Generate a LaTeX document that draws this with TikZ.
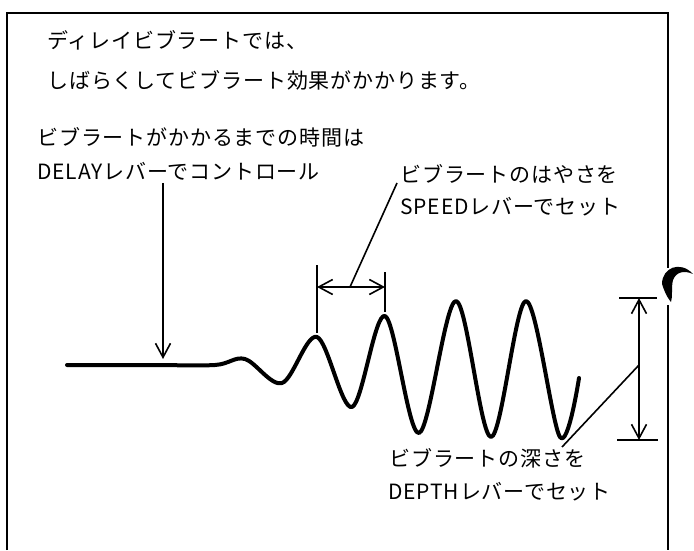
\documentclass[tikz,border=0pt]{standalone}
\usepackage{fontspec}
\newfontfamily\jpfont[LetterSpace=4]{Noto Sans CJK JP}
\usetikzlibrary{arrows.meta}

\tikzset{
    caption/.style={anchor=west, inner sep=0pt, font=\jpfont\fontsize{10.5}{12}\selectfont},
    guide/.style={line width=0.8pt},
    dimline/.style={line width=0.8pt, <->},
}

\begin{document}
\begin{tikzpicture}[x=0.5pt, y=-0.5pt, >={Straight Barb[length=7pt,width=7.5pt]}]
    \useasboundingbox (0,0) rectangle (694,550);

    % frame
    \draw[line width=0.8pt] (7,550) -- (7,13) -- (668,13) -- (668,268);
    \draw[line width=0.8pt] (668,305) -- (668,550);
    \fill (662,284) .. controls (662,268) and (680,260) .. (693,274)
        .. controls (684,270) and (676,272) .. (673,280)
        .. controls (671,288) and (673,296) .. (671,302)
        .. controls (666,296) and (664,290) .. (662,284) -- cycle;

    % texts
    \node[caption] (intro1) at (47,40) {ディレイビブラートでは、};
    \node[caption] (intro2) at (47,80) {しばらくしてビブラート効果がかかります。};
    \node[caption] (delay1) at (37,137) {ビブラートがかかるまでの時間は};
    \node[caption] (delay2) at (37,171) {DELAYレバーでコントロール};
    \node[caption] (speed1) at (400,174) {ビブラートのはやさを};
    \node[caption] (speed2) at (400,207) {SPEEDレバーでセット};
    \node[caption] (depth1) at (389,458) {ビブラートの深さを};
    \node[caption] (depth2) at (388,492) {DEPTHレバーでセット};

    % vibrato wave
    \draw[line width=2pt, line cap=round, line join=round]
        plot[smooth, tension=0.55] coordinates {
            (67,365)
            (150,365)
            (215,365)
            (245,359)
            (282,383)
            (317,337)
            (352,407)
            (385,316)
            (419,433)
            (456,301)
            (491,437)
            (526,301)
            (560,437)
            (579,378)
        };

    % delay
    \coordinate (delaytop) at (163,183);
    \coordinate (delayend) at (163,359);
    \draw[guide, ->] (delaytop) -- (delayend);

    % speed
    \coordinate (speedL) at (317,287);
    \coordinate (speedR) at (385,287);
    \coordinate (speedfoot) at (397,183);
    \draw[guide] (317,265) -- (317,333);
    \draw[guide] (385,272) -- (385,312);
    \draw[dimline] (speedL) -- (speedR);
    \draw[guide] (speedfoot) -- (350,287);

    % depth
    \coordinate (depthT) at (639,298);
    \coordinate (depthB) at (639,440);
    \coordinate (depthfoot) at (562,447);
    \draw[guide] (619,298) -- (657,298);
    \draw[guide] (617,440) -- (658,440);
    \draw[dimline] (depthT) -- (depthB);
    \draw[guide] (639,365) -- (depthfoot);
\end{tikzpicture}
\end{document}
